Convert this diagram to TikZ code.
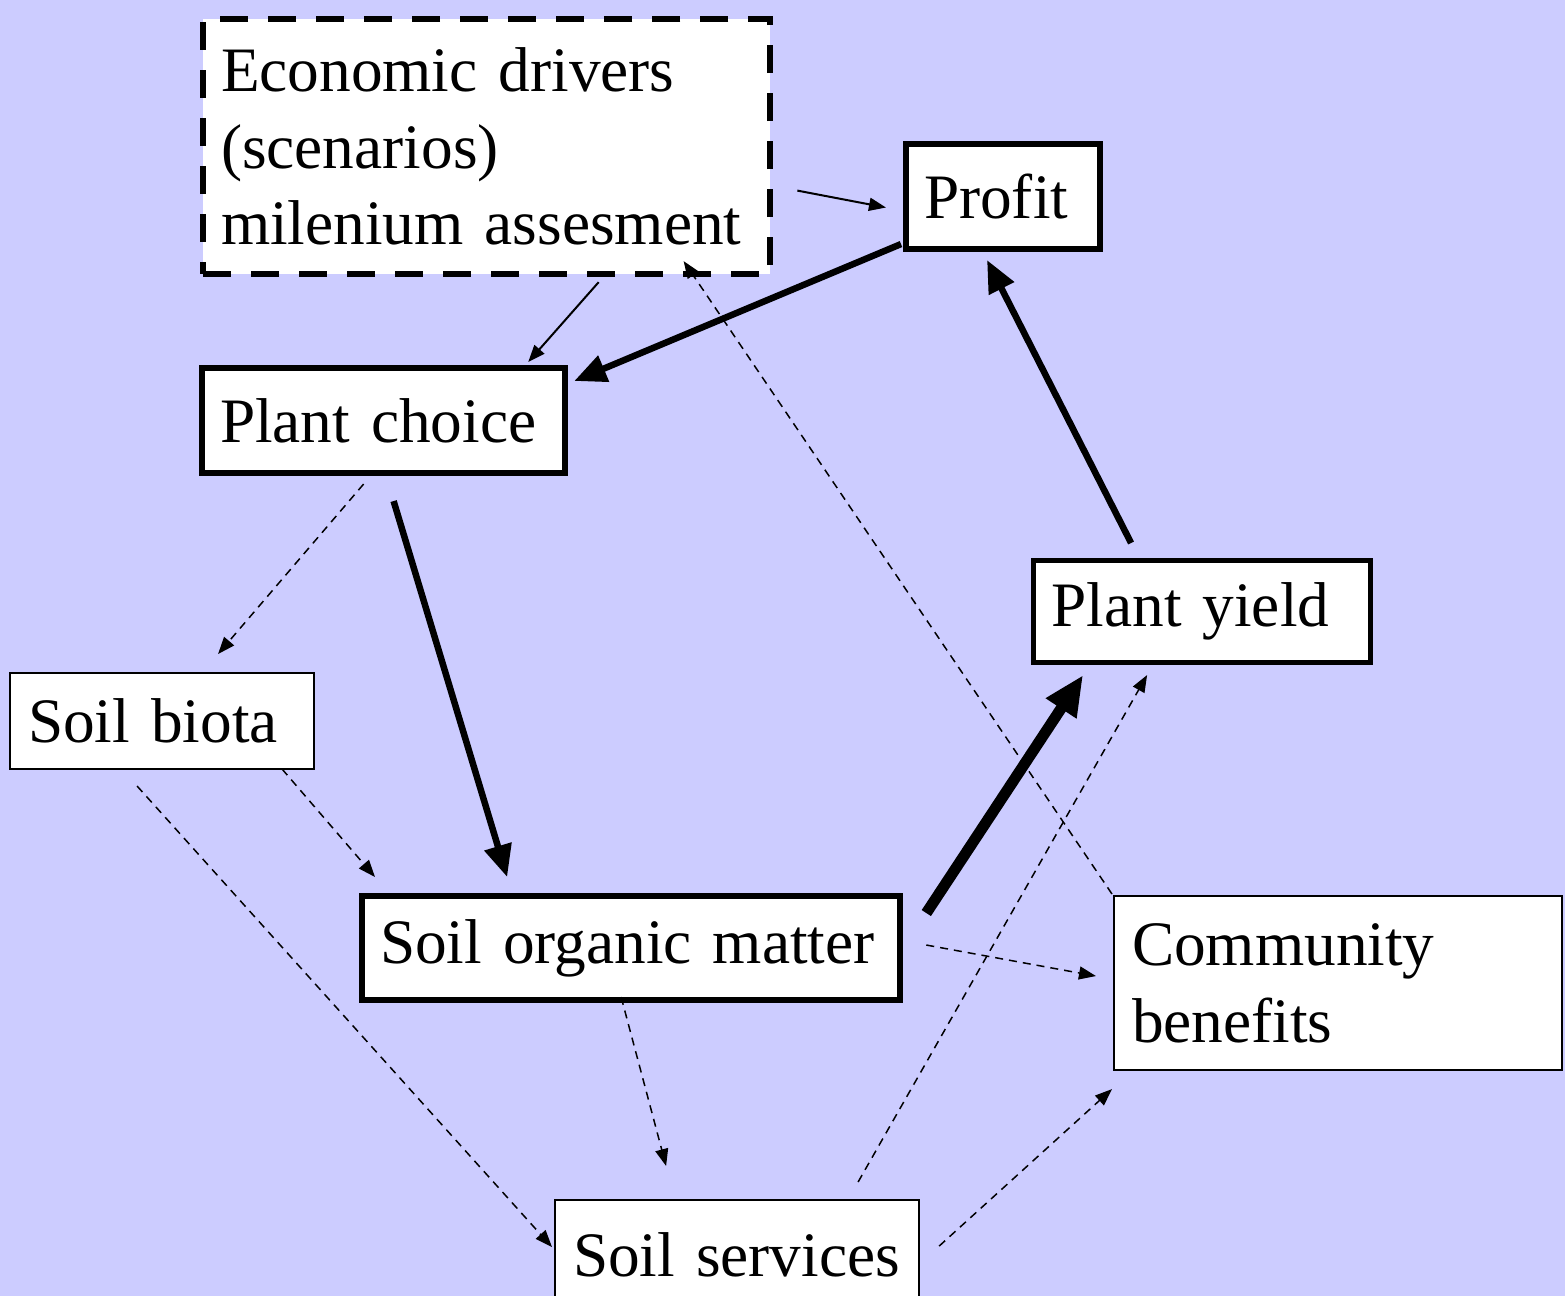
\documentclass[tikz,border=0pt]{standalone}
\usepackage{fontspec}
\setmainfont{Liberation Serif}
\usepackage{tikz}
\usepackage{xcolor}
\usetikzlibrary{arrows.meta}

\definecolor{slide}{RGB}{204,204,255}

\tikzset{
  box/.style={draw, fill=white, anchor=north west, align=left, inner xsep=0.18cm, inner ysep=0pt,
    font=\fontsize{18}{21.8}\selectfont},
  thinbox/.style={box, line width=0.02cm},
  thickbox/.style={box, line width=0.06cm},
  link/.style={line width=0.02cm, -{Triangle[length=0.17cm, width=0.13cm]}},
  maybe/.style={line width=0.015cm, dash pattern=on 0.08cm off 0.06cm, -{Triangle[length=0.17cm, width=0.13cm]}},
  main/.style={line width=0.065cm, -{Triangle[length=0.32cm, width=0.27cm]}},
}

\begin{document}
\begin{tikzpicture}[x=0.01cm, y=-0.01cm]
  % Slide background
  \useasboundingbox (0,0) rectangle (1565,1296);
  \clip (0,0) rectangle (1565,1296);
  \fill[slide] (0,0) rectangle (1565,1296);
  % Boxes
  \node[thickbox, dash pattern=on 0.28cm off 0.2cm, text width=5.31cm, minimum height=2.55cm] (econ) at (200,16)
    {Economic drivers\\(scenarios)\\milenium assesment};
  \node[thickbox, text width=1.58cm, minimum height=1.05cm] (profit) at (903,141) {Profit};
  \node[thickbox, text width=3.27cm, minimum height=1.05cm] (choice) at (199,365) {Plant~choice};
  \node[thickbox, line width=0.05cm, text width=3.01cm, minimum height=1.02cm] (yield) at (1031,558) {Plant~yield};
  \node[thinbox, text width=2.68cm, minimum height=0.96cm] (biota) at (9,672) {Soil~biota};
  \node[thickbox, text width=5.02cm, minimum height=1.04cm] (som) at (359,893) {Soil~organic~matter};
  \node[thinbox, text width=4.12cm, minimum height=1.74cm] (comm) at (1113,895) {Community\\benefits};
  \node[thinbox, text width=3.28cm, minimum height=1.10cm] (serv) at (554,1199) {Soil~services};
  % Economic links
  \draw[link] ([shift={(24,44)}]econ.east) -- ([shift={(-17,11)}]profit.west);
  \draw[link] ([shift={(112,5)}]econ.south) -- ([shift={(-40,-3)}]choice.north east);
  % Main loop
  \draw[main] ([shift={(-2,-8)}]profit.south west) -- ([shift={(6,16)}]choice.north east);
  \draw[main] ([shift={(-71,-15)}]yield.north) -- ([shift={(-16,8)}]profit.south);
  \draw[main] ([shift={(10,25)}]choice.south) -- ([shift={(-124,-16)}]som.north);
  \draw[main, line width=0.11cm, -{Triangle[length=0.4cm, width=0.34cm]}]
    ([shift={(23,-35)}]som.east) -- ([shift={(-119,10)}]yield.south);
  % Soil links
  \draw[maybe] ([shift={(-20,8)}]choice.south) -- ([shift={(56,-18)}]biota.north);
  \draw[maybe] ([shift={(120,-1)}]biota.south) -- ([shift={(16,-16)}]som.north west);
  \draw[maybe] ([shift={(-25,16)}]biota.south) -- ([shift={(-2,-8)}]serv.west);
  \draw[maybe] ([shift={(-10,-6)}]som.south) -- ([shift={(-71,-33)}]serv.north);
  \draw[maybe] ([shift={(23,-3)}]som.east) -- ([shift={(-17,-7)}]comm.west);
  \draw[maybe] ([shift={(19,-9)}]serv.east) -- ([shift={(-1,18)}]comm.south west);
  \draw[maybe] ([shift={(121,-17)}]serv.north) -- ([shift={(-55,10)}]yield.south);
  \draw[maybe] ([shift={(-1,-1)}]comm.north west) -- ([shift={(197,-16)}]econ.south);
\end{tikzpicture}
\end{document}
